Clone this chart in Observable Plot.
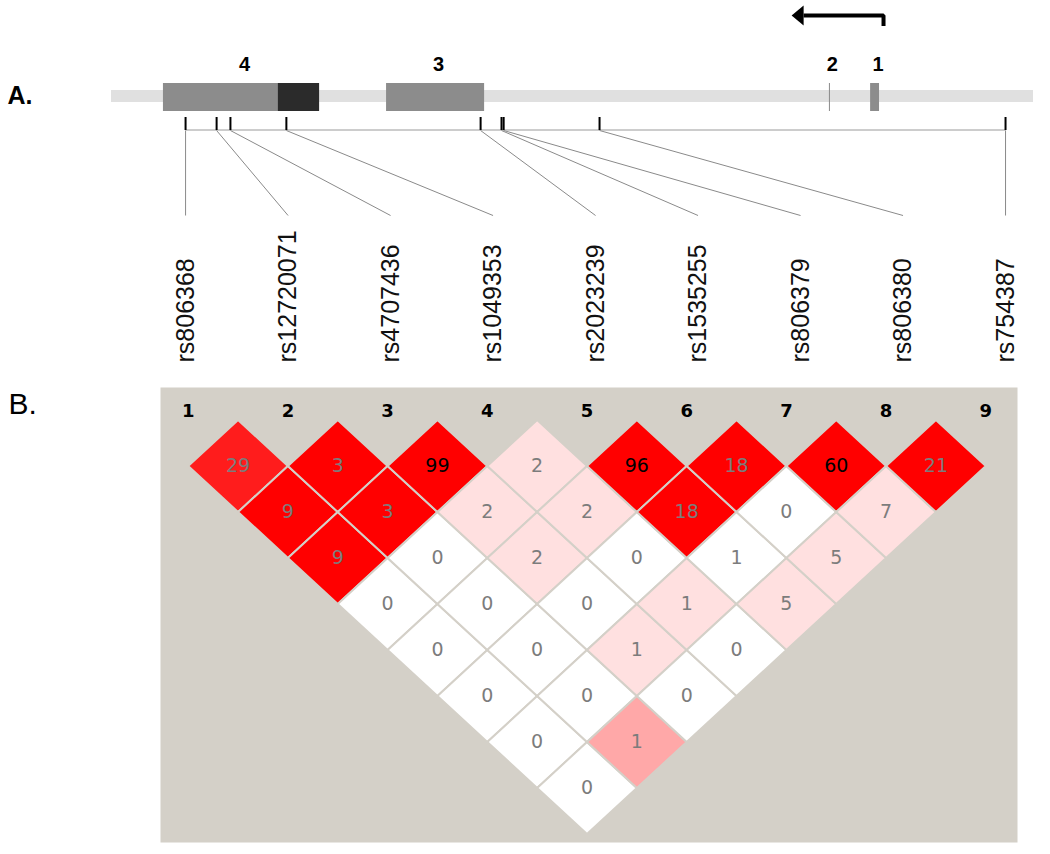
<!DOCTYPE html>
<html>
<head>
<meta charset="utf-8">
<script src="https://cdn.jsdelivr.net/npm/d3@7"></script>
<script src="https://cdn.jsdelivr.net/npm/@observablehq/plot@0.6"></script>
<style>
  html, body { margin: 0; padding: 0; background: #ffffff; }
  #chart svg { display: block; }
</style>
</head>
<body>
<div id="chart"></div>
<script>
// ---------------- DATA ----------------
// Panel A: gene structure (positions in kb along the locus)
const locusStartKb = 0;
const locusEndKb = 30;
const exonLabels   = ["4", "3", "2", "1"];
const exonStartKb  = [1.69, 8.95, 23.36, 24.70];
const exonEndKb    = [6.77, 12.14, 23.36, 24.99];
const codingStartKb = 5.43;
const codingEndKb   = 6.77;
const tssKb = 25.12;
const arrowTipKb = 22.52;

const snpNames = ["rs806368", "rs12720071", "rs4707436", "rs1049353", "rs2023239",
                  "rs1535255", "rs806379", "rs806380", "rs754387"];
const snpPositionsKb = [2.41, 3.42, 3.87, 5.69, 12.01, 12.69, 12.76, 15.88, 29.09];

// Panel B: pairwise LD values (D' x 100), row i holds pairs (i, i+1), (i, i+2), ...
const ldMarkerLabels = ["1", "2", "3", "4", "5", "6", "7", "8", "9"];
const ldValueRows = [
  [29, 9, 9, 0, 0, 0, 0, 0],
  [3, 3, 0, 0, 0, 0, 1],
  [99, 2, 2, 0, 1, 0],
  [2, 2, 0, 1, 0],
  [96, 18, 1, 5],
  [18, 0, 5],
  [60, 7],
  [21]
];
// LD strength class per pair (same layout as ldValueRows)
const ldClassRows = [
  ["strong2", "strong", "strong", "none", "none", "none", "none", "none"],
  ["strong", "strong", "none", "none", "none", "none", "mid"],
  ["strong", "weak", "weak", "none", "weak", "none"],
  ["weak", "weak", "none", "weak", "none"],
  ["strong", "strong", "none", "weak"],
  ["strong", "none", "weak"],
  ["strong", "weak"],
  ["strong"]
];
const ldClasses = ["strong", "strong2", "mid", "weak", "none"];
const ldClassColors = ["#ff0000", "#ff1c1c", "#ffa8a8", "#ffe0e0", "#ffffff"];

// ---------------- BUILD ----------------
const FONT = "'Liberation Sans', Arial, Helvetica, sans-serif";
const BG_B = "#d4d0c8";

// Panel A tables
const exons = exonLabels.map((label, i) => ({label, start: exonStartKb[i], end: exonEndKb[i]}));
const n = snpNames.length;
const p0 = snpPositionsKb[0], pN = snpPositionsKb[n - 1];
const snps = snpNames.map((name, i) => ({
  name,
  pos: snpPositionsKb[i],
  labelX: p0 + i * (pN - p0) / (n - 1)
}));

const arrowHead = {
  draw(ctx, size) {
    const r = Math.sqrt(size / Math.PI);
    ctx.moveTo(-1.2 * r, 0);
    ctx.lineTo(0, -r);
    ctx.lineTo(0, r);
    ctx.closePath();
  }
};

const plotA = Plot.plot({
  width: 1050,
  height: 380,
  margin: 0,
  style: {fontFamily: FONT, background: "transparent", overflow: "visible"},
  x: {domain: [locusStartKb, locusEndKb], range: [111, 1033], axis: null},
  y: {domain: [0, 380], range: [0, 380], axis: null},
  marks: [
    // transcript backbone
    Plot.rect([0], {x1: () => locusStartKb, x2: () => locusEndKb, y1: 90, y2: 102, fill: "#e0e0e0"}),
    // exons with width
    Plot.rect(exons.filter(e => e.end > e.start), {x1: "start", x2: "end", y1: 83, y2: 111, fill: "#8c8c8c"}),
    // coding part of exon 4
    Plot.rect([0], {x1: () => codingStartKb, x2: () => codingEndKb, y1: 83, y2: 111, fill: "#2b2b2b"}),
    // tiny exon (drawn as a line)
    Plot.ruleX(exons.filter(e => e.end <= e.start), {x: "start", y1: 83, y2: 111, stroke: "#8a8a8a", strokeWidth: 1}),
    // exon labels
    Plot.text(exons, {x: d => (d.start + d.end) / 2, y: 64, dx: 3, text: "label", fontSize: 20, fontWeight: "bold", fill: "#000"}),
    // transcription direction arrow
    Plot.line([{x: tssKb, y: 25.5}, {x: tssKb, y: 15}, {x: arrowTipKb, y: 15}],
      {x: "x", y: "y", stroke: "#000", strokeWidth: 4, strokeLinejoin: "miter", strokeLinecap: "butt"}),
    Plot.dot([0], {x: () => arrowTipKb, y: () => 15, r: 10, symbol: arrowHead, fill: "#000", stroke: "none"}),
    // SNP baseline
    Plot.link([0], {x1: () => p0, x2: () => pN, y1: 129.5, y2: 129.5, stroke: "#9a9a9a", strokeWidth: 1}),
    // SNP ticks
    Plot.ruleX(snps, {x: "pos", y1: 117, y2: 130, stroke: "#000", strokeWidth: 2}),
    // connectors
    Plot.link(snps, {x1: "pos", y1: 130, x2: "labelX", y2: 215, stroke: "#8a8a8a", strokeWidth: 1}),
    // SNP names
    Plot.text(snps, {x: "labelX", y: 362, text: "name", rotate: -90, textAnchor: "start", lineAnchor: "middle",
      fontSize: 25, fill: "#111"}),
    // panel label
    Plot.text(["A."], {frameAnchor: "top-left", dx: 7, dy: 95, textAnchor: "start", lineAnchor: "middle",
      fontSize: 25, fontWeight: "bold", fill: "#000"})
  ]
});

// Panel B tables
const cells = [];
const verts = [];
ldValueRows.forEach((row, i) => {
  row.forEach((v, k) => {
    const j = i + k + 1;
    const cx = (i + j) / 2 + 1;
    const d = j - i;
    const cls = ldClassRows[i][k];
    const id = `${i}-${j}`;
    cells.push({id, cx, d, v, cls});
    verts.push({id, cls, x: cx - 0.5, y: d});
    verts.push({id, cls, x: cx, y: d - 1});
    verts.push({id, cls, x: cx + 0.5, y: d});
    verts.push({id, cls, x: cx, y: d + 1});
  });
});
const markers = ldMarkerLabels.map((label, i) => ({label, idx: i + 1}));

const plotB = Plot.plot({
  width: 1050,
  height: 474,
  marginLeft: 160,
  marginRight: 33,
  marginTop: 7,
  marginBottom: 12,
  style: {fontFamily: FONT, background: "transparent", overflow: "visible"},
  x: {domain: [1, 9], range: [187.7, 985.3], axis: null},
  y: {domain: [0, 9], range: [39.5, 453.5], axis: null},
  color: {domain: ldClasses, range: ldClassColors},
  marks: [
    Plot.frame({fill: BG_B, stroke: "none"}),
    Plot.line(verts, {x: "x", y: "y", z: "id", fill: "cls", stroke: BG_B, strokeWidth: 2,
      curve: "linear-closed", strokeLinejoin: "miter"}),
    Plot.text(cells.filter(c => c.v < 50), {x: "cx", y: "d", text: d => String(d.v), fill: "#7c7c7c",
      fontSize: 19, fontFamily: "'DejaVu Sans', sans-serif"}),
    Plot.text(cells.filter(c => c.v >= 50), {x: "cx", y: "d", text: d => String(d.v), fill: "#000",
      fontSize: 19, fontFamily: "'DejaVu Sans', sans-serif"}),
    Plot.text(markers, {x: "idx", y: () => 0, dy: -8.5, text: "label", fontSize: 18, fontWeight: "bold",
      fill: "#000", fontFamily: "'DejaVu Sans', sans-serif"}),
    Plot.text(["B."], {frameAnchor: "top-left", dx: -152, dy: 16.5, textAnchor: "start", lineAnchor: "middle",
      fontSize: 30, fill: "#000"})
  ]
});

const chart = document.getElementById("chart");
chart.appendChild(plotA);
chart.appendChild(plotB);
</script>
</body>
</html>
